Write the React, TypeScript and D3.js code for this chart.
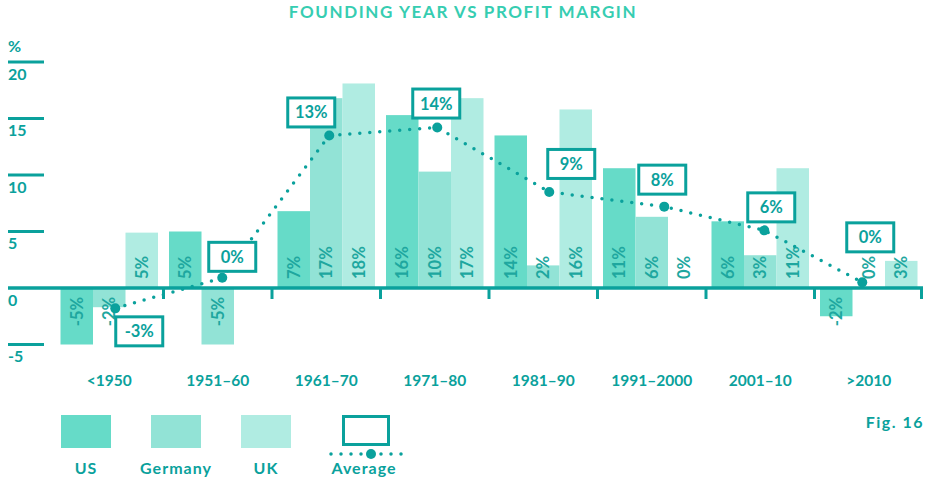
import * as d3 from "d3";

const width = 926;
const height = 479;

// founding-year groups
const categories = ["<1950", "1951–60", "1961–70", "1971–80", "1981–90", "1991–2000", "2001–10", ">2010"];
const seriesNames = ["US", "Germany", "UK"];

// bar heights as drawn, and the printed labels
const usValues = [-5, 5, 6.8, 15.3, 13.5, 10.6, 5.9, -2.5];
const germanyValues = [-1.7, -5, 16.8, 10.3, 2, 6.3, 2.9, 0];
const ukValues = [4.9, 0, 18.1, 16.8, 15.8, 0, 10.6, 2.4];
const usLabels = ["-5%", "5%", "7%", "16%", "14%", "11%", "6%", "-2%"];
const germanyLabels = ["-2%", "-5%", "17%", "10%", "2%", "6%", "3%", "0%"];
const ukLabels = ["5%", "", "18%", "17%", "16%", "0%", "11%", "3%"];

// average line
const averageValues = [-1.8, 0.9, 13.5, 14.2, 8.5, 7.2, 5.1, 0.5];
const averageLabels = ["-3%", "0%", "13%", "14%", "9%", "8%", "6%", "0%"];

const yTicks = [20, 15, 10, 5, 0, -5];

const colors = ["#66dbc8", "#92e3d6", "#b0ece2"];
const teal = "#0aa19c";
const labelTeal = "#1ea79f";
const titleColor = "#36cdb1";
const font = "Lato, 'Open Sans', sans-serif";

// layout nudges: point x off band centre, callout box centre off point
const pointNudge = [6, 4.5, 3, 2.5, 6, 12.5, 4, -6.5];
const calloutShift: [number, number][] = [
  [24, 23], [10, -21], [-18, -23], [-1, -24], [22, -28], [-2, -27], [7, -23], [8, -45],
];

export default function App() {
  const x = d3.scaleBand<string>().domain(categories).range([55, 923]);
  const inner = d3.scaleBand<string>().domain(seriesNames).range([5.5, x.bandwidth() - 5.5]);
  const y = d3.scaleLinear().domain([-5, 20]).range([344.5, 62]);

  const series = [
    { name: "US", values: usValues, labels: usLabels },
    { name: "Germany", values: germanyValues, labels: germanyLabels },
    { name: "UK", values: ukValues, labels: ukLabels },
  ];

  const avgPoints = categories.map(
    (c, i) => [x(c)! + x.bandwidth() / 2 + pointNudge[i], y(averageValues[i])] as [number, number]
  );
  const line = d3.line();

  const boxW = 47;
  const boxH = 29;

  return (
    <svg width={width} height={height} style={{ position: "absolute", left: 0, top: 0 }} fontFamily={font} fontWeight={700}>
      <text x={width / 2} y={18} textAnchor="middle" fill={titleColor} fontSize={17} letterSpacing={1.6}>
        FOUNDING YEAR VS PROFIT MARGIN
      </text>

      {/* y axis */}
      <text x={8} y={52} fill={teal} fontSize={16}>%</text>
      {yTicks.map((t) => (
        <g key={t}>
          {t !== 0 && <line x1={8} x2={44} y1={y(t)} y2={y(t)} stroke={teal} strokeWidth={3} />}
          <text x={8} y={y(t) + 17.5} fill={teal} fontSize={16}>{t}</text>
        </g>
      ))}

      {/* bars */}
      {series.map((s, j) => (
        <g key={s.name} fill={colors[j]}>
          {categories.map((c, i) => {
            const v = s.values[i];
            const bx = x(c)! + inner(s.name)!;
            return (
              <rect key={c} x={bx} width={inner.bandwidth()} y={Math.min(y(v), y(0))} height={Math.abs(y(v) - y(0))} />
            );
          })}
        </g>
      ))}

      {/* bar labels */}
      {series.map((s) => (
        <g key={s.name + "l"} fill={labelTeal} fontSize={16.5}>
          {categories.map((c, i) => {
            const v = s.values[i];
            const cx = x(c)! + inner(s.name)! + inner.bandwidth() / 2;
            const neg = v < 0;
            const ty = neg ? y(0) + 9 : y(0) - 9;
            return (
              <text
                key={c}
                transform={`translate(${cx + 6},${ty}) rotate(-90)`}
                textAnchor={neg ? "end" : "start"}
              >
                {s.labels[i]}
              </text>
            );
          })}
        </g>
      ))}

      {/* baseline with group ticks */}
      <line x1={8} x2={923} y1={y(0)} y2={y(0)} stroke={teal} strokeWidth={3.5} />
      {categories.map((c, i) =>
        i === 0 ? null : (
          <line key={c} x1={x(c)!} x2={x(c)!} y1={y(0)} y2={y(0) + 11} stroke={teal} strokeWidth={3} />
        )
      )}
      <line x1={921.5} x2={921.5} y1={y(0)} y2={y(0) + 11} stroke={teal} strokeWidth={3} />

      {/* category labels */}
      {categories.map((c) => (
        <text key={c} x={x(c)! + x.bandwidth() / 2} y={386} textAnchor="middle" fill={teal} fontSize={15.5}>
          {c}
        </text>
      ))}

      {/* average */}
      <path d={line(avgPoints) ?? ""} fill="none" stroke={teal} strokeWidth={3.5} strokeLinecap="round" strokeDasharray="0 10" />
      {avgPoints.map((p, i) => (
        <circle key={i} cx={p[0]} cy={p[1]} r={5} fill={teal} />
      ))}
      {avgPoints.map((p, i) => {
        const cx = p[0] + calloutShift[i][0];
        const cy = p[1] + calloutShift[i][1];
        return (
          <g key={"b" + i}>
            <rect x={cx - boxW / 2} y={cy - boxH / 2} width={boxW} height={boxH} fill="#fff" stroke={teal} strokeWidth={3} />
            <text x={cx} y={cy + 6} textAnchor="middle" fill={teal} fontSize={16.5}>{averageLabels[i]}</text>
          </g>
        );
      })}

      {/* legend */}
      {seriesNames.map((n, j) => {
        const lx = 61 + j * 90;
        return (
          <g key={n}>
            <rect x={lx} y={415} width={50} height={33} fill={colors[j]} />
            <text x={lx + 25} y={474} textAnchor="middle" fill={teal} fontSize={16} letterSpacing={1}>{n}</text>
          </g>
        );
      })}
      <rect x={343.5} y={416.5} width={45} height={28} fill="#fff" stroke={teal} strokeWidth={3} />
      <line x1={331} x2={403} y1={454} y2={454} stroke={teal} strokeWidth={3.5} strokeLinecap="round" strokeDasharray="0 10" />
      <circle cx={371} cy={454} r={5} fill={teal} />
      <text x={364} y={474} textAnchor="middle" fill={teal} fontSize={16} letterSpacing={1}>Average</text>

      <text x={924} y={428} textAnchor="end" fill={teal} fontSize={16} letterSpacing={1.5}>Fig. 16</text>
    </svg>
  );
}
